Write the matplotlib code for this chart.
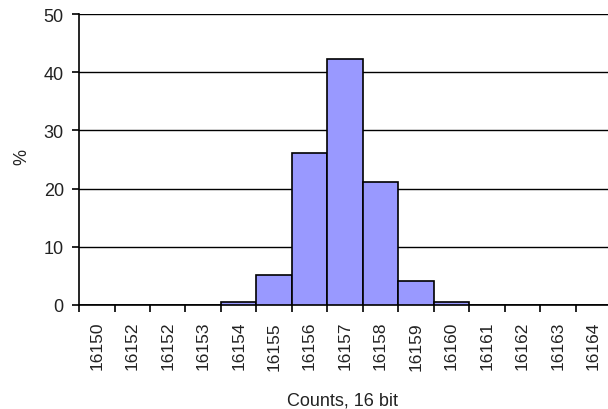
import matplotlib.pyplot as plt
import numpy as np

plt.rcParams['font.family'] = ['Liberation Sans', 'DejaVu Sans']

labels = ['16150', '16152', '16152', '16153', '16154', '16155', '16156', '16157',
          '16158', '16159', '16160', '16161', '16162', '16163', '16164']
percent = [0, 0, 0, 0, 0.5, 5.2, 26.1, 42.3, 21.1, 4.2, 0.5, 0, 0, 0, 0]

fig = plt.figure(figsize=(6.08, 4.10), dpi=100)
ax = fig.add_axes([0.130, 0.2537, 0.875, 0.7093])

x = np.arange(len(labels))
ax.bar(x, percent, width=1.0, color='#9999ff', edgecolor='black', linewidth=1.2, zorder=3)

ax.set_xlim(-0.5, len(labels) - 0.5)
ax.set_ylim(0, 50)
ax.set_yticks(range(0, 51, 10))
ax.yaxis.grid(True, color='black', linewidth=1.0, zorder=0)

# tick marks on category boundaries, labels at centres
ax.set_xticks(np.arange(-0.5, len(labels), 1.0))
ax.set_xticklabels([])
ax.set_xticks(x, minor=True)
ax.set_xticklabels(labels, minor=True, rotation=90, fontsize=12.5, color='#222222')
ax.tick_params(axis='x', which='major', direction='out', length=5, width=1.2)
ax.tick_params(axis='x', which='minor', length=0, pad=11.5)
ax.tick_params(axis='y', direction='out', length=5, width=1.2, labelsize=13,
               pad=6, labelcolor='#222222')

for s in ['top', 'right']:
    ax.spines[s].set_visible(False)
for s in ['left', 'bottom']:
    ax.spines[s].set_linewidth(1.2)

ax.set_ylabel('%', fontsize=13, va='center', color='#222222')
ax.yaxis.set_label_coords(-0.107, 0.512)
ax.set_xlabel('Counts, 16 bit', fontsize=13, va='top', color='#222222')
ax.xaxis.set_label_coords(0.496, -0.296)

plt.savefig('out.png', dpi=100)
